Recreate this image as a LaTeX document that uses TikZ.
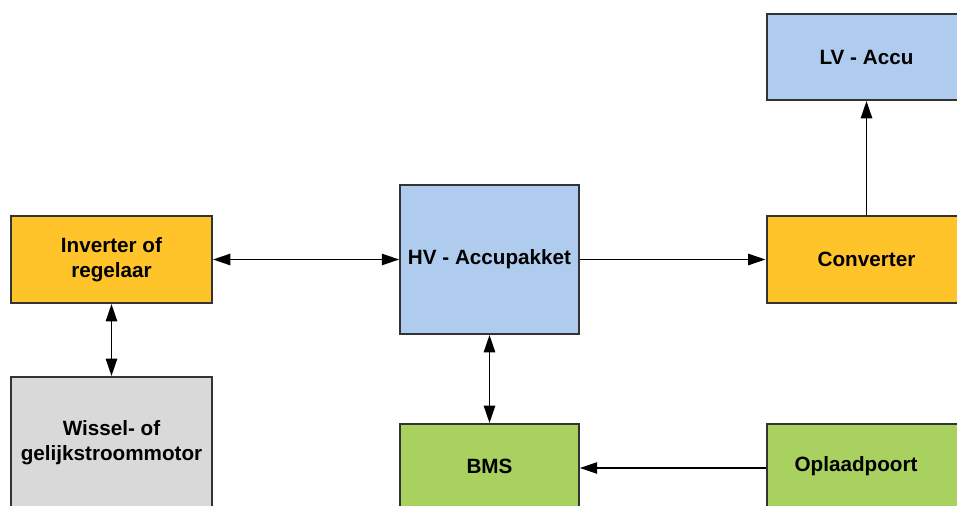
\documentclass[tikz,border=0pt]{standalone}
\usepackage{fontspec}
\setmainfont{Liberation Sans}
\usetikzlibrary{arrows.meta}
\definecolor{bblue}{HTML}{AFCBEE}
\definecolor{byellow}{HTML}{FFC42A}
\definecolor{bgreen}{HTML}{A9D15F}
\definecolor{bgray}{HTML}{D9D9D9}
\definecolor{bborder}{HTML}{333333}
\tikzset{
  box/.style={draw=bborder, line width=1.5pt, rectangle, align=center,
    font=\fontsize{15.5pt}{18.8pt}\selectfont\bfseries, inner sep=0pt},
  conn/.style={draw=black, line width=1.2pt,
    -{Triangle[length=13pt,width=8.5pt]}},
  biconn/.style={draw=black, line width=1.2pt,
    {Triangle[length=13pt,width=8.5pt]}-{Triangle[length=13pt,width=8.5pt]}},
}
\begin{document}
\begin{tikzpicture}[x=0.75pt,y=-0.75pt]
\useasboundingbox (0,0) rectangle (957,506);
\clip (0,0) rectangle (957,506);
\node[box, fill=bblue, minimum width=150pt, minimum height=64.5pt] (lv) at (866.5,57) {LV - Accu};
\node[box, fill=byellow, minimum width=150pt, minimum height=64.5pt] (conv) at (866.5,259.5) {Converter};
\node[box, fill=bgreen, minimum width=150pt, minimum height=63pt] (opl) at (867,466) {Oplaadpoort\hspace{16.5pt}};
\node[box, fill=bblue, minimum width=134pt, minimum height=111.75pt] (hv) at (489.5,259.5) {HV - Accupakket};
\node[box, fill=bgreen, minimum width=134pt, minimum height=63pt] (bms) at (489.5,466) {BMS};
\node[box, fill=byellow, minimum width=150.75pt, minimum height=65.25pt] (inv) at (111.5,259.5) {Inverter of\\regelaar};
\node[box, fill=bgray, minimum width=150.75pt, minimum height=99pt] (mot) at (111.5,443) {Wissel- of\\gelijkstroommotor};
\draw[biconn] (inv) -- (hv);
\draw[conn] (hv) -- (conv);
\draw[conn] (conv) -- (lv);
\draw[biconn] (inv) -- (mot);
\draw[biconn] (hv) -- (bms);
\draw[conn] (opl.west |- 0,468) -- (bms.east |- 0,468);
\end{tikzpicture}
\end{document}
